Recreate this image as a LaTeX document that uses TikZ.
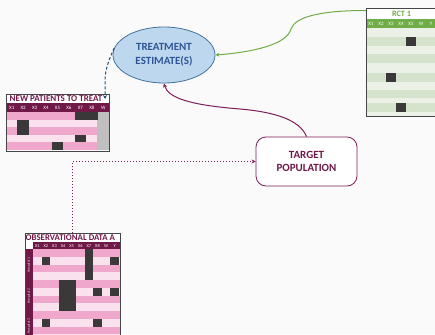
\documentclass[tikz,border=0pt]{standalone}
\usepackage{fontspec}
\setmainfont{Carlito}
\usetikzlibrary{arrows.meta,shapes.geometric,calc}
\definecolor{bg}{RGB}{250,250,250}
\definecolor{maroon}{RGB}{112,24,72}
\definecolor{pinkA}{RGB}{239,168,203}
\definecolor{pinkB}{RGB}{249,226,237}
\definecolor{cellD}{RGB}{58,56,56}
\definecolor{wgray}{RGB}{191,191,191}
\definecolor{ellfill}{RGB}{189,215,238}
\definecolor{elldraw}{RGB}{65,113,156}
\definecolor{elltext}{RGB}{47,85,151}
\definecolor{dashblue}{RGB}{31,78,121}
\definecolor{grn}{RGB}{112,173,71}
\definecolor{grnA}{RGB}{235,241,230}
\definecolor{grnB}{RGB}{214,227,204}
\definecolor{boxline}{RGB}{70,70,70}
\definecolor{tpline}{RGB}{125,30,88}
\begin{document}
\begin{tikzpicture}[x=1pt,y=-1pt,
  hdr/.style={text=white, font=\fontsize{5}{5}\selectfont, inner sep=0},
  hdrsmall/.style={text=white, font=\fontsize{4.4}{4.4}\selectfont, inner sep=0},
  ttl/.style={font=\bfseries\fontsize{9}{9}\selectfont, inner sep=0},
  tbox/.style={draw=boxline, line width=1pt, inner sep=0, anchor=north west},
  conn/.style={line width=1pt, -{Stealth[length=4pt,width=4pt]}}]
\fill[bg] (0,0) rectangle (435,334);
\useasboundingbox (0,0) rectangle (435,334);
\clip (0,0) rectangle (435,334);

% ---------- NEW PATIENTS TO TREAT ----------
\fill[white] (6,94) rectangle (109,103);
\fill[maroon] (6,103) rectangle (109,112);
\foreach \r/\c in {0/pinkA,1/pinkB,2/pinkA,3/pinkB,4/pinkA}
  \fill[\c] (6,{112+\r*7.6}) rectangle (97.4,{112+(\r+1)*7.6});
\fill[wgray] (97.4,112) rectangle (109,150);
\foreach \cc/\r in {7/1,8/1,2/2,2/3,7/4,5/5}
  \fill[cellD] ({6+(\cc-1)*11.444},{112+(\r-1)*7.6}) rectangle ({6+\cc*11.444},{112+\r*7.6});
\foreach \t [count=\i] in {X1,X2,X3,X4,X5,X6,X7,X8,W}
  \node[hdr] at ({6+(\i-0.5)*11.444},107.8) {\t};
\node[ttl, text=maroon, anchor=west] at (9.5,99) {NEW PATIENTS TO TREAT};
\node[tbox, minimum width=103pt, minimum height=57pt] (np) at (6,94) {};
\coordinate (npin) at (105,99);

% ---------- OBSERVATIONAL DATA A ----------
\fill[white] (25,233) rectangle (119.5,249);
\fill[maroon] (33,242) rectangle (119.5,249);
\fill[maroon] (25,249) rectangle (33,340);
\foreach \r in {0,...,11}{
  \pgfmathsetmacro\cc{mod(\r,2)==0 ? 1 : 0}
  \ifdim\cc pt>0.5pt \fill[pinkA] (33,{249+\r*7.75}) rectangle (119.5,{249+(\r+1)*7.75});
  \else \fill[pinkB] (33,{249+\r*7.75}) rectangle (119.5,{249+(\r+1)*7.75}); \fi
}
\fill[cellD] (84.6,249) rectangle (93.2,280);
\fill[cellD] (58.8,280) rectangle (76,311);
\foreach \cc/\r in {2/2,10/2,8/6,10/6,2/10,8/10}
  \fill[cellD] ({33+(\cc-1)*8.6},{249+(\r-1)*7.75}) rectangle ({33+\cc*8.6},{249+\r*7.75});
\foreach \t [count=\i] in {X1,X2,X3,X4,X5,X6,X7,X8,W,Y}
  \node[hdrsmall] at ({33+(\i-0.5)*8.6},245.7) {\t};
\foreach \h/\y in {1/265,2/296,3/326}
  \node[rotate=90, text=pinkB, font=\fontsize{3.6}{3.6}\selectfont, inner sep=0] at (29,\y) {Hospital \h};
\node[ttl, text=maroon, anchor=west, font=\bfseries\fontsize{8.8}{8.8}\selectfont] at (25.5,238) {OBSERVATIONAL DATA A};
\node[tbox, minimum width=94.5pt, minimum height=120pt] (obs) at (25,233) {};

% ---------- RCT 1 ----------
\fill[white] (366,8) rectangle (440,19);
\fill[grn] (366,19) rectangle (440,28);
\foreach \a/\b/\c in {28/37/grnA,37/46/grnB,46/54/grnA,54/63/grnB,63/73/grnA,73/82/grnB,82/90/grnA,90/98/grnB,98/103/grnA,103/112/grnB,112/116/grnA}
  \fill[\c] (366,\a) rectangle (440,\b);
\fill[cellD] (406,37) rectangle (416,46);
\fill[cellD] (386,73) rectangle (396,82);
\fill[cellD] (396,103) rectangle (406,112);
\foreach \t [count=\i] in {X1,X2,X3,X4,X5,W,Y}
  \node[hdr] at ({366+(\i-0.5)*10},23.6) {\t};
\node[ttl, text=grn, font=\bfseries\fontsize{8.2}{8.2}\selectfont] at (401.5,13.5) {RCT 1};
\node[tbox, minimum width=80pt, minimum height=108pt] (rct) at (366,8) {};
\coordinate (rctin) at (366,10.5);

% ---------- main nodes ----------
\node[ellipse, draw=elldraw, fill=ellfill, line width=0.8pt, minimum width=102pt,
      minimum height=56pt, inner sep=0, align=center, text=elltext,
      font=\bfseries\fontsize{11}{14}\selectfont] (est) at (164,55) {TREATMENT\\ESTIMATE(S)};
\node[rounded corners=10pt, draw=tpline, fill=white, line width=0.8pt, minimum width=101pt,
      minimum height=49pt, align=center, text=maroon,
      font=\bfseries\fontsize{11}{13}\selectfont] (tp) at (306.5,161.5) {TARGET\\POPULATION};

% ---------- connectors ----------
\draw[conn, grn] (rctin) .. controls (320,10.5) and (295,17) .. (291,29)
   .. controls (287,44) and (255,52) .. (est.east);
\draw[conn, tpline] (tp.north) .. controls (300,120) and (275,112) .. (240,109)
   .. controls (190,105) and (168,98) .. (est.south);
\draw[conn, dashblue, dash pattern=on 3pt off 2pt] (est.172) .. controls (108,62) and (105,70) .. (105,82) -- (npin);
\draw[conn, tpline, dotted, line width=1.1pt] (obs.north) |- (tp.west);
\end{tikzpicture}
\end{document}
